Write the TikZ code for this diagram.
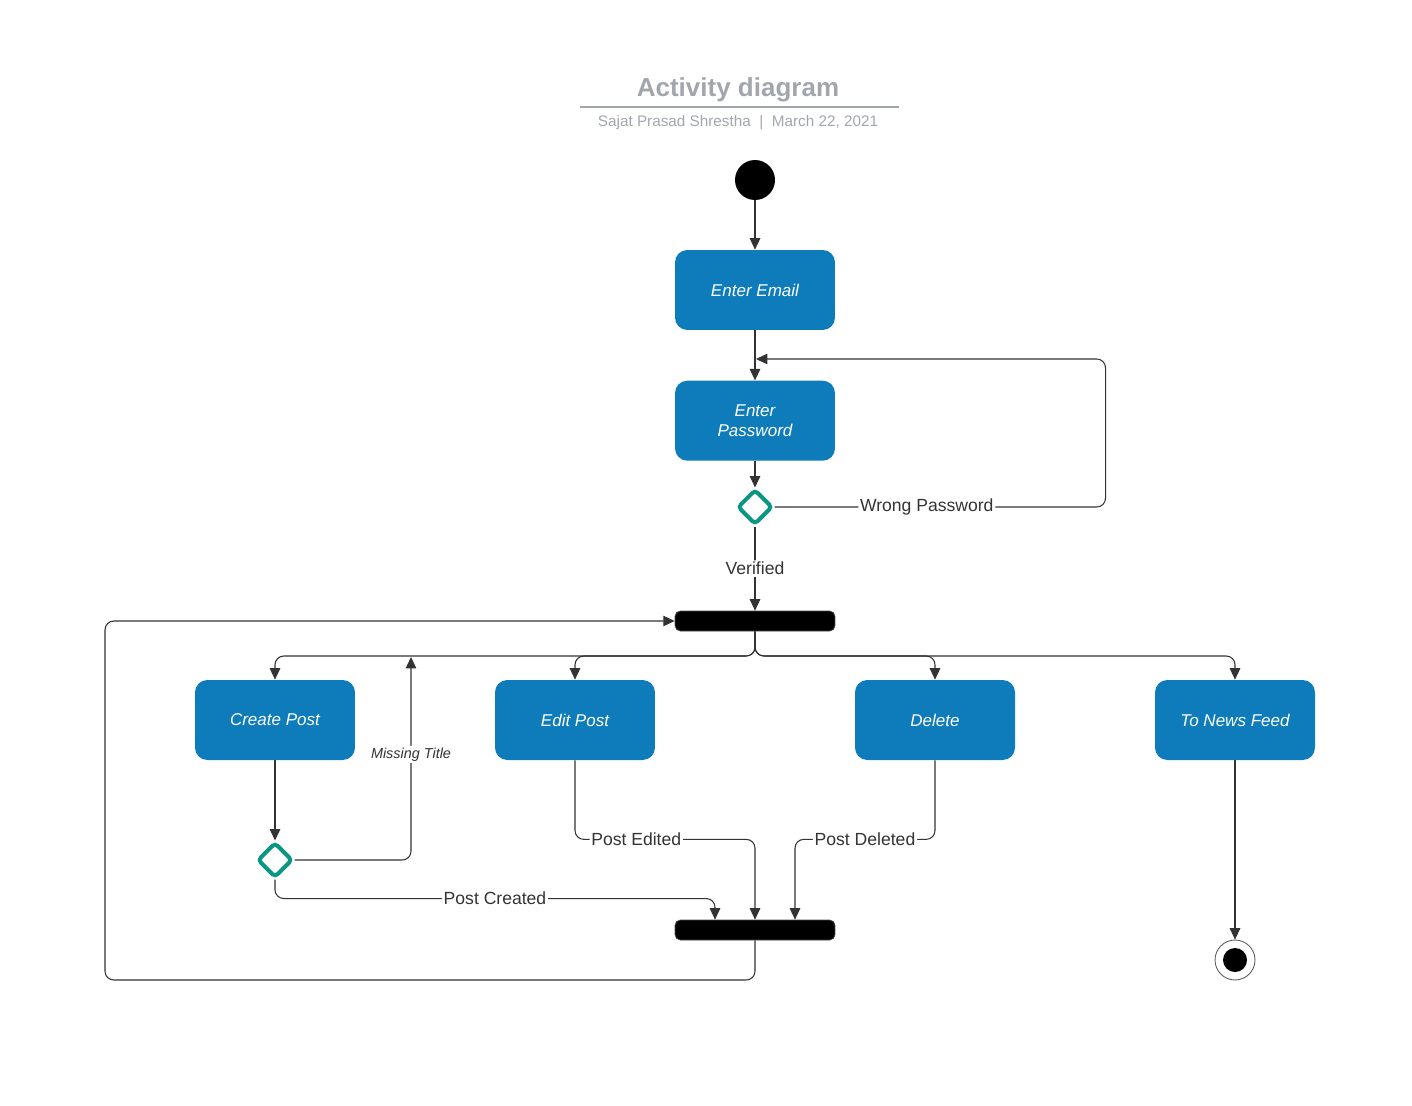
\documentclass[tikz,border=0pt]{standalone}
\usepackage{fontspec}
\setmainfont{Liberation Sans}
\usepackage{xcolor}
\usetikzlibrary{positioning, shapes.geometric, arrows.meta}
\definecolor{actblue}{RGB}{14,124,187}
\definecolor{choiceteal}{RGB}{10,150,130}
\definecolor{linegray}{RGB}{51,51,51}
\definecolor{titlegray}{RGB}{161,166,174}

\begin{document}
\begin{tikzpicture}[x=0.02cm, y=-0.02cm,
                  action/.style={rectangle,rounded corners=7pt,fill=actblue,text=white,inner sep=2pt,
                    minimum width=3.2cm,minimum height=1.6cm,align=center,
                    font=\fontsize{9.7}{11.6}\selectfont\itshape},
                  choice/.style={diamond,draw=choiceteal,line width=2.3pt,rounded corners=2pt,fill=white,
                    inner sep=0pt,minimum width=0.7cm,minimum height=0.7cm},
                  bar/.style={rectangle,rounded corners=3pt,fill=black,draw=black!70,inner sep=0pt,
                    minimum width=3.2cm,minimum height=0.4cm},
                  flow/.style={->,>={Triangle[length=6.5pt,width=6pt]},draw=linegray,line width=0.6pt,
                    rounded corners=5pt},
                  guard/.style={fill=white,text=linegray,inner sep=1pt,font=\fontsize{10}{12}\selectfont}
                  ]
                  \useasboundingbox (0,0) rectangle (1412,1105);

                  \node[text=titlegray,font=\fontsize{14.8}{17}\selectfont\bfseries] (title) at (738,90) {Activity diagram};
                  \draw[titlegray,line width=1.2pt] (580,107) -- (899,107);
                  \node[text=titlegray,font=\fontsize{8.7}{10}\selectfont] (byline) at (738,123)
                  {Sajat Prasad Shrestha~~|~~March 22, 2021};

                  \node[circle,fill=black,inner sep=0pt,minimum size=0.8cm] (start) at (755,180) {};
                  \node[action] (email) at (755,290) {Enter Email};
                  \node[action] (password) [below=1cm of email] {Enter\\Password};
                  \node[choice] (check) at (755,507) {};
                  \node[bar] (fork) at (755,621) {};

                  \node[action] (create) at (275,720) {Create Post};
                  \node[action] (edit) at (575,720) {Edit Post};
                  \node[action] (delete) at (935,720) {Delete};
                  \node[action] (feed) at (1235,720) {To News Feed};

                  \node[choice] (titlecheck) at (275,860) {};
                  \node[bar] (join) at (755,930) {};

                  \node[circle,draw=linegray!80,line width=0.5pt,inner sep=0pt,minimum size=0.8cm] (stop) at (1235,960) {};
                  \node[circle,fill=black,inner sep=0pt,minimum size=0.48cm] (stopdot) at (stop) {};

                  \coordinate (pwin) at (756,359);
                  \coordinate (split) at (755,656);
                  \coordinate (retry) at (411,657);
                  \coordinate (loopcorner) at (105,980);

                  \draw[flow] (start) -- (email);
                  \draw[flow] (email) -- (password);
                  \draw[flow] (password) -- (check);
                  \draw[flow] (check.east) -- node[guard,pos=0.46] {Wrong Password} ++(331,0) |- (pwin);
                  \draw[flow] (check.south) -- node[guard] {Verified} (fork.north);

                  \draw[flow] (fork.south) -- (split) -| (create.north);
                  \draw[flow] (fork.south) -- (split) -| (edit.north);
                  \draw[flow] (fork.south) -- (split) -| (delete.north);
                  \draw[flow] (fork.south) -- (split) -| (feed.north);

                  \draw[flow] (create) -- (titlecheck);
                  \draw[flow] (titlecheck.east) -| node[guard,pos=0.76,font=\fontsize{8.2}{10}\selectfont\itshape]
                  {Missing Title} (retry);
                  \draw[flow] (titlecheck.south) -- ++(0,19) -| node[guard,pos=0.25] {Post Created}
                  ([xshift=-0.8cm]join.north);
                  \draw[flow] (edit.south) -- ++(0,79) -| node[guard,pos=0.17] {Post Edited} (join.north);
                  \draw[flow] (delete.south) -- ++(0,79) -| node[guard,pos=0.25] {Post Deleted}
                  ([xshift=0.8cm]join.north);

                  \draw[flow] (join.south) |- (loopcorner) |- (fork.west);
                  \draw[flow] (feed) -- (stop);
                \end{tikzpicture}
\end{document}
